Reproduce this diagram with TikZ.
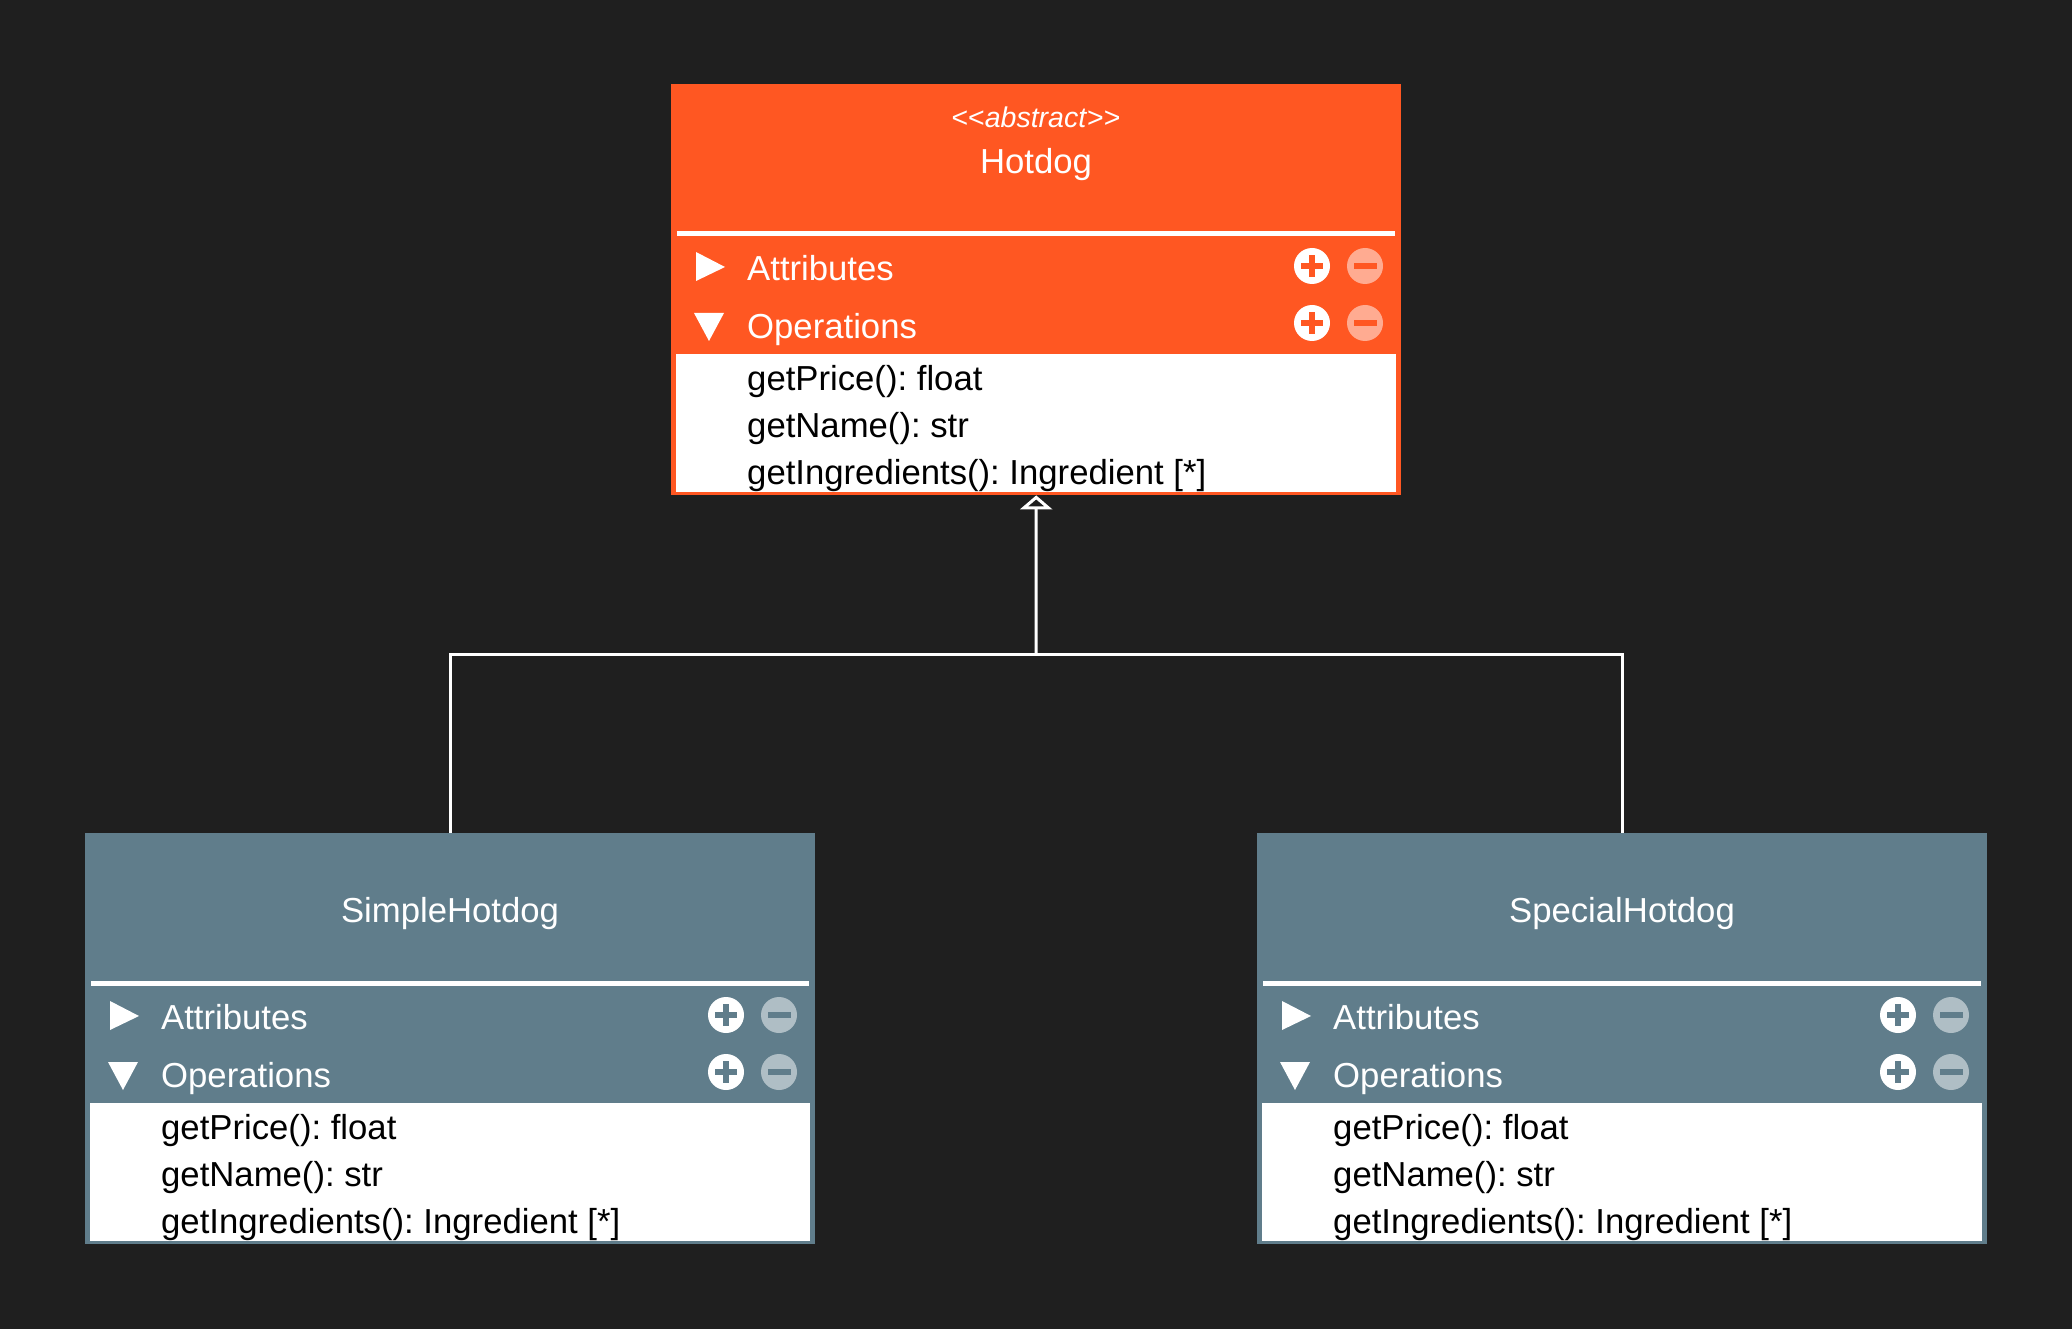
\documentclass[tikz,border=0pt]{standalone}
\usepackage{fontspec}
\setmainfont{Liberation Sans}
\usetikzlibrary{arrows.meta}
\definecolor{bg}{HTML}{1F1F1F}
\definecolor{hotorange}{HTML}{FF5722}
\definecolor{slate}{HTML}{607D8B}
\newcommand{\dlangle}{<\kern0pt<}
\newcommand{\drangle}{>\kern0pt>}
\frenchspacing
\tikzset{
  hdrtext/.style={text=white, inner sep=0pt, font=\fontsize{34.7}{41}\selectfont},
  bodytext/.style={text=black, inner sep=0pt, font=\fontsize{34.7}{41}\selectfont},
  stereotext/.style={text=white, inner sep=0pt, font=\fontsize{28.5}{34}\selectfont},
  conn/.style={draw=white, line width=3pt},
}
\newcommand{\umlclass}[6]{%
  \begin{scope}[shift={(#2,#3)}]
    \node[anchor=north west, minimum width=730pt, minimum height=411pt, inner sep=0pt, fill=#4] (#1) at (0,0) {};
    \fill[white] (5,270) rectangle (725,408);
    \draw[white, line width=5pt] (6,150) -- (724,150);
    \node[hdrtext, anchor=base] (#1-title) at (365,89.5) {#5};
    #6
    % toggles
    \fill[white] (25,168) -- (25,197) -- (54,183) -- cycle;
    \fill[white] (23,229) -- (53,229) -- (38,257) -- cycle;
    \node[hdrtext, anchor=base west] (#1-attr) at (76,196.5) {Attributes};
    \node[hdrtext, anchor=base west] (#1-ops) at (76,254.5) {Operations};
    % plus / minus buttons
    \foreach \yy in {182,239}{
      \fill[white] (641,\yy) circle (18pt);
      \fill[#4] (630,\yy-3.3) rectangle (652,\yy+3.3);
      \fill[#4] (637.7,\yy-11) rectangle (644.3,\yy+11);
      \fill[white!50!#4] (694,\yy) circle (18pt);
      \fill[#4] (682.5,\yy-3.3) rectangle (705.5,\yy+3.3);
    }
    \node[bodytext, anchor=base west] (#1-m1) at (76,306.5) {getPrice(): float};
    \node[bodytext, anchor=base west] (#1-m2) at (76,353.5) {getName(): str};
    \node[bodytext, anchor=base west] (#1-m3) at (76,400) {getIngredients(): Ingredient [*]};
  \end{scope}}
\begin{document}
\begin{tikzpicture}[x=1pt, y=-1pt]
  \useasboundingbox (0,0) rectangle (2072,1329);
  \fill[bg] (0,0) rectangle (2072,1329);
  \umlclass{hotdog}{671}{84}{hotorange}{Hotdog}{\node[stereotext, anchor=base] (hotdog-stereo) at (365,44) {\dlangle\textit{abstract}\drangle};}
  \umlclass{simple}{85}{833}{slate}{SimpleHotdog}{}
  \umlclass{special}{1257}{833}{slate}{SpecialHotdog}{}
  \coordinate (junction) at (1036,654);
  \draw[conn] (simple.north) |- (junction) -| (special.north);
  \draw[conn, -{Triangle[length=14pt, width=32pt, fill=bg]}] (junction) -- (hotdog.south);
\end{tikzpicture}
\end{document}
